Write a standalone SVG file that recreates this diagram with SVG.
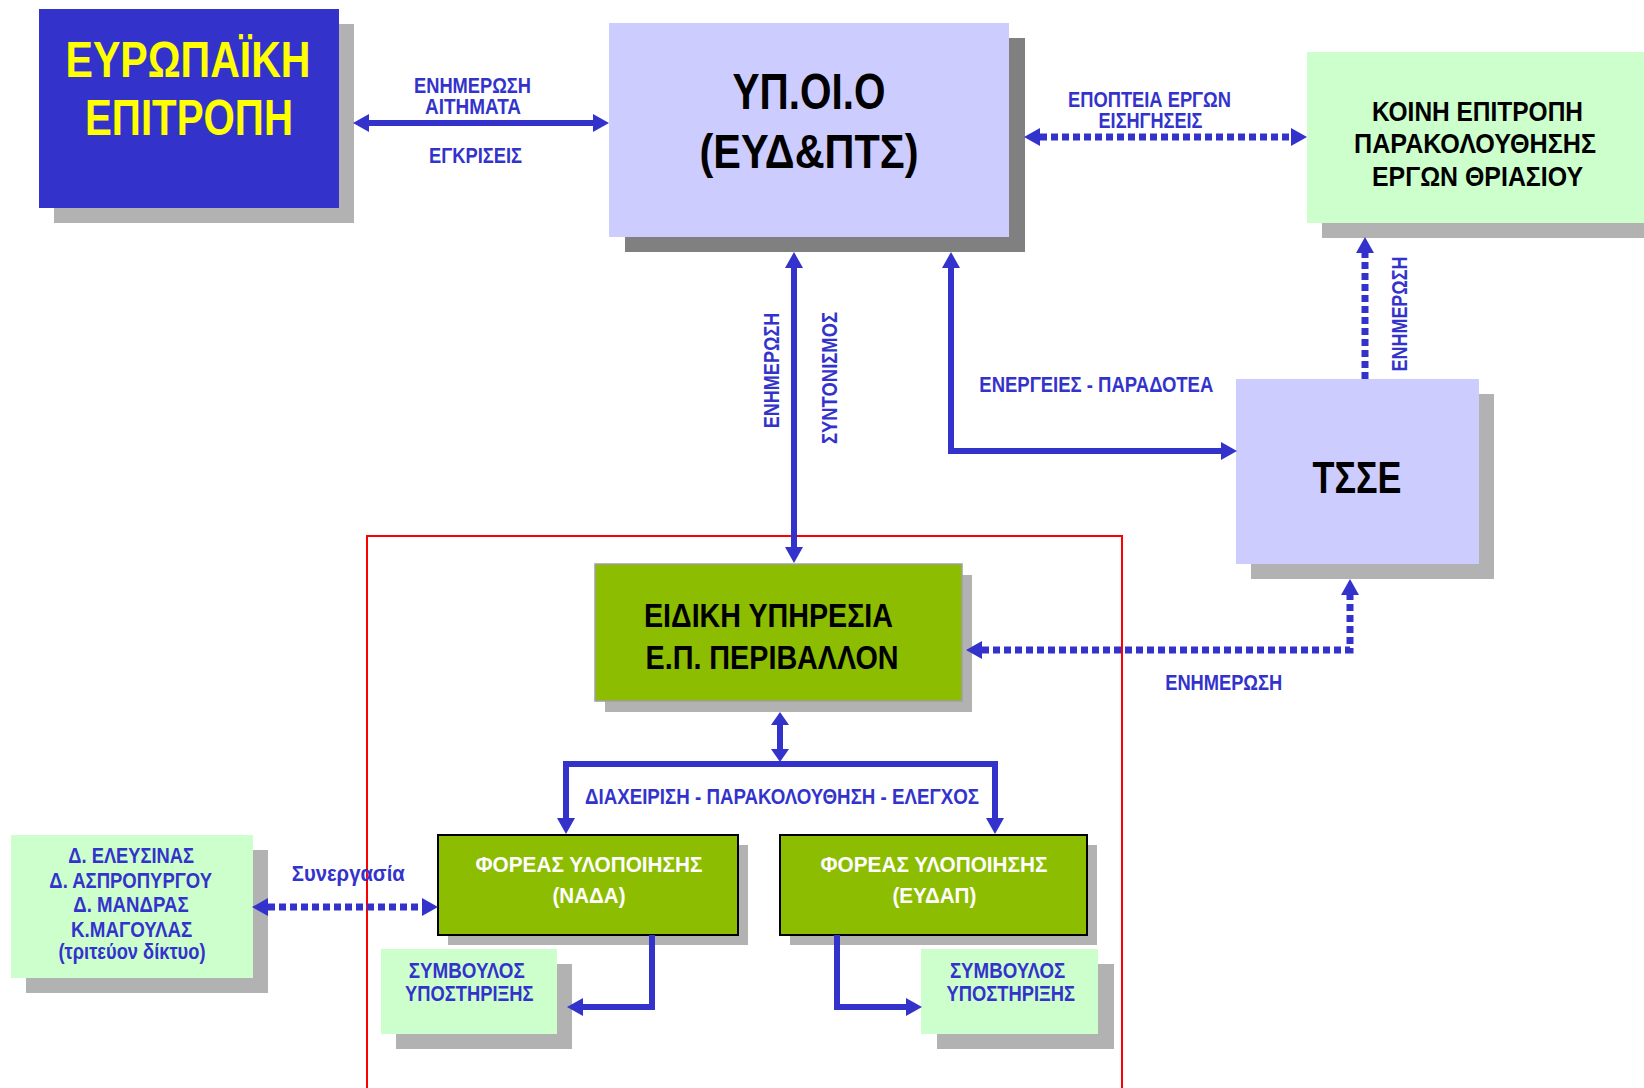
<svg xmlns="http://www.w3.org/2000/svg" width="1644" height="1088" viewBox="0 0 1644 1088">
<style>
text{font-family:"Liberation Sans Narrow","Liberation Sans",Arial,sans-serif;font-weight:bold;text-anchor:middle}
.lbl{fill:#3333CC;font-size:22px}
.blk{fill:#000}
.sh{fill:#B2B2B2}
.sh2{fill:#808080}
.lav{fill:#CCCCFF}
.lg{fill:#CCFFCC}
.gr{fill:#8CBD00}
.ln{fill:none;stroke:#3333CC;stroke-width:6}
.dot{fill:none;stroke:#3333CC;stroke-width:7;stroke-dasharray:7 4}
</style>
<defs>
<marker id="ah" viewBox="0 0 16 18" refX="0" refY="9" markerWidth="16" markerHeight="18" markerUnits="userSpaceOnUse" orient="auto-start-reverse"><path d="M0,0 L16,9 L0,18 z" fill="#3333CC"/></marker>
<marker id="ahs" viewBox="0 0 13 18" refX="0" refY="9" markerWidth="13" markerHeight="18" markerUnits="userSpaceOnUse" orient="auto-start-reverse"><path d="M0,0 L13,9 L0,18 z" fill="#3333CC"/></marker>
</defs>
<rect width="1644" height="1088" fill="#fff"/>

<g id="frame"><path d="M367,1092 L367,536 L1122,536 L1122,1092" fill="none" stroke="#FF0000" stroke-width="2"/></g>

<g id="eu">
<rect class="sh" x="54" y="24" width="300" height="199"/>
<rect x="39" y="9" width="300" height="199" fill="#3333CC"/>
<text x="188" y="77" font-size="50" fill="#FFFF00" textLength="245" lengthAdjust="spacingAndGlyphs">ΕΥΡΩΠΑΪΚΗ</text>
<text x="189" y="135" font-size="50" fill="#FFFF00" textLength="208" lengthAdjust="spacingAndGlyphs">ΕΠΙΤΡΟΠΗ</text>
</g>

<g id="ypoio">
<rect class="sh2" x="625" y="38" width="400" height="214"/>
<rect class="lav" x="609" y="23" width="400" height="214"/>
<text class="blk" x="809" y="109" font-size="50" textLength="153" lengthAdjust="spacingAndGlyphs">ΥΠ.ΟΙ.Ο</text>
<text class="blk" x="809" y="168" font-size="48" textLength="219" lengthAdjust="spacingAndGlyphs">(ΕΥΔ&amp;ΠΤΣ)</text>
</g>

<g id="koinh">
<rect class="sh" x="1322" y="67" width="330" height="171"/>
<rect class="lg" x="1307" y="52" width="340" height="171"/>
<text class="blk" x="1477.5" y="121" font-size="28.5" textLength="211" lengthAdjust="spacingAndGlyphs">ΚΟΙΝΗ ΕΠΙΤΡΟΠΗ</text>
<text class="blk" x="1475" y="153" font-size="28.5" textLength="242" lengthAdjust="spacingAndGlyphs">ΠΑΡΑΚΟΛΟΥΘΗΣΗΣ</text>
<text class="blk" x="1477.5" y="186" font-size="28.5" textLength="211" lengthAdjust="spacingAndGlyphs">ΕΡΓΩΝ ΘΡΙΑΣΙΟΥ</text>
</g>

<g id="tsse">
<rect class="sh" x="1251" y="394" width="243" height="185"/>
<rect class="lav" x="1236" y="379" width="243" height="185"/>
<text class="blk" x="1357" y="493" font-size="45" textLength="89" lengthAdjust="spacingAndGlyphs">ΤΣΣΕ</text>
</g>

<g id="eidiki">
<rect class="sh" x="605" y="575" width="367" height="137"/>
<rect class="gr" x="595" y="564" width="367" height="137" stroke="#A0A0A0" stroke-width="1.5"/>
<text class="blk" x="768.5" y="627" font-size="34" textLength="249" lengthAdjust="spacingAndGlyphs">ΕΙΔΙΚΗ ΥΠΗΡΕΣΙΑ</text>
<text class="blk" x="772" y="669" font-size="34" textLength="253" lengthAdjust="spacingAndGlyphs">Ε.Π. ΠΕΡΙΒΑΛΛΟΝ</text>
</g>

<g id="nada">
<rect class="sh" x="448" y="845" width="300" height="100"/>
<rect class="gr" x="438" y="835" width="300" height="100" stroke="#000" stroke-width="2"/>
<text x="589" y="872" font-size="22.5" fill="#fff" textLength="227" lengthAdjust="spacingAndGlyphs">ΦΟΡΕΑΣ ΥΛΟΠΟΙΗΣΗΣ</text>
<text x="589" y="903" font-size="22.5" fill="#fff" textLength="73" lengthAdjust="spacingAndGlyphs">(ΝΑΔΑ)</text>
</g>

<g id="eydap">
<rect class="sh" x="790" y="845" width="307" height="100"/>
<rect class="gr" x="780" y="835" width="307" height="100" stroke="#000" stroke-width="2"/>
<text x="934" y="872" font-size="22.5" fill="#fff" textLength="227" lengthAdjust="spacingAndGlyphs">ΦΟΡΕΑΣ ΥΛΟΠΟΙΗΣΗΣ</text>
<text x="934.4" y="903" font-size="22.5" fill="#fff" textLength="84" lengthAdjust="spacingAndGlyphs">(ΕΥΔΑΠ)</text>
</g>

<g id="symv-left">
<rect class="sh" x="396" y="964" width="176" height="85"/>
<rect class="lg" x="381" y="949" width="176" height="85"/>
<text class="lbl" x="466.7" y="978" textLength="116" lengthAdjust="spacingAndGlyphs">ΣΥΜΒΟΥΛΟΣ</text>
<text class="lbl" x="469.3" y="1001" textLength="128.5" lengthAdjust="spacingAndGlyphs">ΥΠΟΣΤΗΡΙΞΗΣ</text>
</g>

<g id="symv-right">
<rect class="sh" x="937" y="964" width="177" height="85"/>
<rect class="lg" x="921" y="949" width="177" height="85"/>
<text class="lbl" x="1007.6" y="978" textLength="115.4" lengthAdjust="spacingAndGlyphs">ΣΥΜΒΟΥΛΟΣ</text>
<text class="lbl" x="1010.8" y="1001" textLength="128.5" lengthAdjust="spacingAndGlyphs">ΥΠΟΣΤΗΡΙΞΗΣ</text>
</g>

<g id="dimoi">
<rect class="sh" x="26" y="850" width="242" height="143"/>
<rect class="lg" x="11" y="835" width="242" height="143"/>
<text class="lbl" x="131.2" y="863" font-size="20" textLength="125.7" lengthAdjust="spacingAndGlyphs">Δ. ΕΛΕΥΣΙΝΑΣ</text>
<text class="lbl" x="130.7" y="888" font-size="20" textLength="162.7" lengthAdjust="spacingAndGlyphs">Δ. ΑΣΠΡΟΠΥΡΓΟΥ</text>
<text class="lbl" x="131" y="912" font-size="20" textLength="115.4" lengthAdjust="spacingAndGlyphs">Δ. ΜΑΝΔΡΑΣ</text>
<text class="lbl" x="131.7" y="937" font-size="20" textLength="121.3" lengthAdjust="spacingAndGlyphs">Κ.ΜΑΓΟΥΛΑΣ</text>
<text class="lbl" x="132" y="959" font-size="20" textLength="147" lengthAdjust="spacingAndGlyphs">(τριτεύον δίκτυο)</text>
</g>

<g id="connectors">
<path class="ln" d="M369,123 L593,123" marker-start="url(#ah)" marker-end="url(#ah)"/>
<path class="dot" d="M1040,137 L1291,137" marker-start="url(#ah)" marker-end="url(#ah)"/>
<path class="ln" d="M794,268 L794,547" marker-start="url(#ah)" marker-end="url(#ah)"/>
<path class="ln" d="M951,268 L951,451 L1221,451" marker-start="url(#ah)" marker-end="url(#ah)"/>
<path class="dot" d="M1365,379 L1365,253" marker-end="url(#ah)"/>
<path class="dot" d="M982,650 L1350,650 L1350,595" marker-start="url(#ah)" marker-end="url(#ah)"/>
<path class="ln" d="M780,725 L780,749" stroke-width="5" marker-start="url(#ahs)" marker-end="url(#ahs)"/>
<path class="ln" d="M566,818 L566,764 L995,764 L995,818" marker-start="url(#ah)" marker-end="url(#ah)"/>
<path class="dot" d="M268,907 L422,907" marker-start="url(#ah)" marker-end="url(#ah)"/>
<path class="ln" d="M652,935 L652,1007 L583,1007" marker-end="url(#ah)"/>
<path class="ln" d="M837,935 L837,1007 L906,1007" marker-end="url(#ah)"/>
<text class="lbl" x="472.5" y="93" textLength="117" lengthAdjust="spacingAndGlyphs">ΕΝΗΜΕΡΩΣΗ</text>
<text class="lbl" x="473" y="114" textLength="96" lengthAdjust="spacingAndGlyphs">ΑΙΤΗΜΑΤΑ</text>
<text class="lbl" x="475.5" y="163" textLength="93" lengthAdjust="spacingAndGlyphs">ΕΓΚΡΙΣΕΙΣ</text>
<text class="lbl" x="1149.5" y="107" textLength="163" lengthAdjust="spacingAndGlyphs">ΕΠΟΠΤΕΙΑ ΕΡΓΩΝ</text>
<text class="lbl" x="1150.5" y="128" textLength="104" lengthAdjust="spacingAndGlyphs">ΕΙΣΗΓΗΣΕΙΣ</text>
<text class="lbl" transform="translate(779,370.5) rotate(-90)" font-size="23" textLength="115.6" lengthAdjust="spacingAndGlyphs">ΕΝΗΜΕΡΩΣΗ</text>
<text class="lbl" transform="translate(836.7,378) rotate(-90)" font-size="23" textLength="132" lengthAdjust="spacingAndGlyphs">ΣΥΝΤΟΝΙΣΜΟΣ</text>
<text class="lbl" transform="translate(1406.7,314) rotate(-90)" font-size="23" textLength="115" lengthAdjust="spacingAndGlyphs">ΕΝΗΜΕΡΩΣΗ</text>
<text class="lbl" x="1096.3" y="392" font-size="21.5" textLength="234" lengthAdjust="spacingAndGlyphs">ΕΝΕΡΓΕΙΕΣ - ΠΑΡΑΔΟΤΕΑ</text>
<text class="lbl" x="1223.7" y="690" textLength="117" lengthAdjust="spacingAndGlyphs">ΕΝΗΜΕΡΩΣΗ</text>
<text class="lbl" x="782" y="804" font-size="21" textLength="394" lengthAdjust="spacingAndGlyphs">ΔΙΑΧΕΙΡΙΣΗ - ΠΑΡΑΚΟΛΟΥΘΗΣΗ - ΕΛΕΓΧΟΣ</text>
<text class="lbl" x="348.3" y="881" font-size="23.5" textLength="113" lengthAdjust="spacingAndGlyphs">Συνεργασία</text>
</g>
</svg>
